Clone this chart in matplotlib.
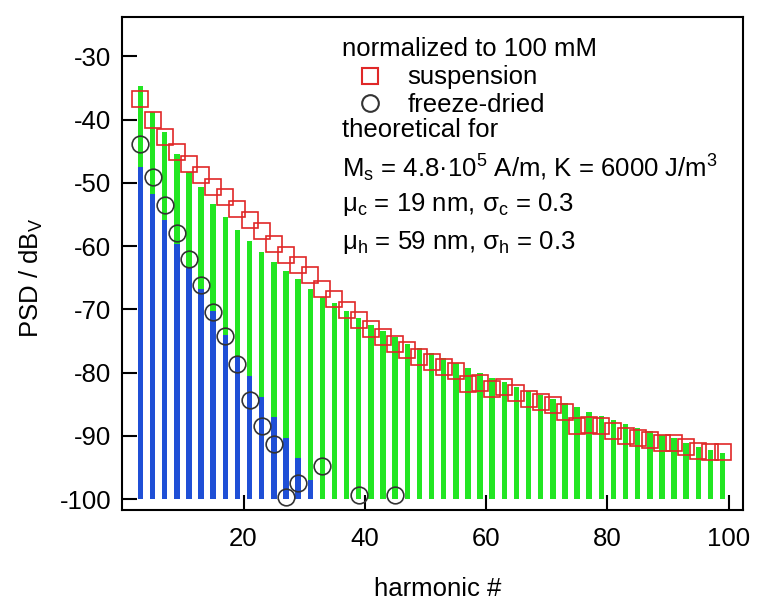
import numpy as np
import matplotlib
matplotlib.use("Agg")
import matplotlib.pyplot as plt
from matplotlib.lines import Line2D

plt.rcParams["font.family"] = ["Liberation Sans", "DejaVu Sans"]
plt.rcParams["mathtext.default"] = "regular"
plt.rcParams["axes.unicode_minus"] = False

# odd harmonics
harmonics = list(range(3, 100, 2))

# theoretical, suspension (green bars)
theo_susp = [-34.6, -38.8, -42.0, -45.4, -48.3, -50.7, -53.3, -55.4, -57.4, -59.2,
             -61.0, -62.5, -64.0, -65.2, -66.7, -68.0, -69.0, -70.3, -71.3, -72.4,
             -73.4, -74.3, -75.4, -76.1, -76.9, -77.7, -78.5, -79.3, -80.0, -80.9,
             -81.5, -82.2, -82.9, -83.5, -84.1, -84.8, -85.5, -86.2, -86.8, -87.5,
             -88.1, -88.8, -89.3, -89.8, -90.4, -91.1, -91.7, -92.2, -92.7]

# theoretical, freeze-dried (blue bars), harmonics 3..31
theo_fd_h = list(range(3, 32, 2))
theo_fd = [-47.5, -51.8, -55.8, -59.6, -63.3, -66.7, -70.2, -74.0, -77.5, -80.5,
           -83.9, -87.0, -90.4, -93.5, -97.0]

# measured, suspension (red squares)
meas_susp = [-36.7, -40.0, -42.7, -45.1, -47.0, -48.8, -50.6, -52.2, -54.1, -55.9,
             -57.6, -59.6, -61.4, -63.0, -64.6, -66.7, -68.3, -70.1, -71.7, -73.1,
             -74.3, -75.4, -76.5, -77.6, -78.4, -79.1, -79.8, -81.8, -81.6, -82.6,
             -82.3, -83.3, -84.2, -84.7, -85.2, -86.2, -88.5, -88.3, -88.5, -89.3,
             -90.1, -90.4, -90.6, -91.2, -91.2, -91.7, -92.4, -92.5, -92.6]

# measured, freeze-dried (black circles)
meas_fd_h = [3, 5, 7, 9, 11, 13, 15, 17, 19, 21, 23, 25, 27, 29, 33, 39, 45]
meas_fd = [-43.8, -49.0, -53.5, -57.9, -62.0, -66.1, -70.4, -74.2, -78.7, -84.4,
           -88.5, -91.3, -99.6, -97.4, -94.7, -99.3, -99.3]

green = "#22e622"
blue = "#1f4fd6"
red = "#e02828"
dark = "#333333"
fs = 18.5

fig = plt.figure(figsize=(7.64, 6.15), dpi=100)
ax = fig.add_axes([0.160, 0.171, 0.812, 0.801])

base = -100
ax.bar(harmonics, np.array(theo_susp) - base, bottom=base, width=0.9,
       color=green, zorder=1)
ax.bar(theo_fd_h, np.array(theo_fd) - base, bottom=base, width=0.9,
       color=blue, zorder=2)
ax.plot(harmonics, meas_susp, ls="none", marker="s", ms=12, mfc="none",
        mec=red, mew=1.2, zorder=3)
ax.plot(meas_fd_h, meas_fd, ls="none", marker="o", ms=12, mfc="none",
        mec=dark, mew=1.2, zorder=4)

ax.set_xlim(0, 102.3)
ax.set_ylim(-101.7, -23.8)
ax.set_xticks([20, 40, 60, 80, 100])
ax.set_yticks(range(-100, -29, 10))
ax.tick_params(direction="in", length=11, width=1.5, labelsize=fs)
ax.tick_params(axis="y", pad=8)
ax.tick_params(axis="x", pad=12)
for s in ax.spines.values():
    s.set_linewidth(1.5)

ax.set_xlabel("harmonic #", fontsize=fs)
ax.xaxis.set_label_coords(0.508, -0.136)
ax.set_ylabel("PSD / dB$_V$", fontsize=fs)
ax.yaxis.set_label_coords(-0.124, 0.47)

tx = 0.355
ax.text(tx, 0.935, "normalized to 100 mM", transform=ax.transAxes,
        fontsize=fs, va="center")
handles = [Line2D([], [], ls="none", marker="s", ms=12, mfc="none", mec=red, mew=1.5),
           Line2D([], [], ls="none", marker="o", ms=12, mfc="none", mec=dark, mew=1.5)]
ax.legend(handles, ["suspension", "freeze-dried"], loc="upper left",
          bbox_to_anchor=(0.379, 0.902), borderaxespad=0, borderpad=0,
          frameon=False, fontsize=fs, handlelength=1.0, handletextpad=0.95,
          labelspacing=0.12)
ax.text(tx, 0.771, "theoretical for", transform=ax.transAxes,
        fontsize=fs, va="center")
ax.text(tx, 0.694, "M$_s$ = 4.8·10$^5$ A/m, K = 6000 J/m$^3$",
        transform=ax.transAxes, fontsize=fs, va="center")
ax.text(tx, 0.619, "μ$_c$ = 19 nm, σ$_c$ = 0.3", transform=ax.transAxes,
        fontsize=fs, va="center")
ax.text(tx, 0.542, "μ$_h$ = 59 nm, σ$_h$ = 0.3", transform=ax.transAxes,
        fontsize=fs, va="center")

fig.savefig("out.png", dpi=100)
